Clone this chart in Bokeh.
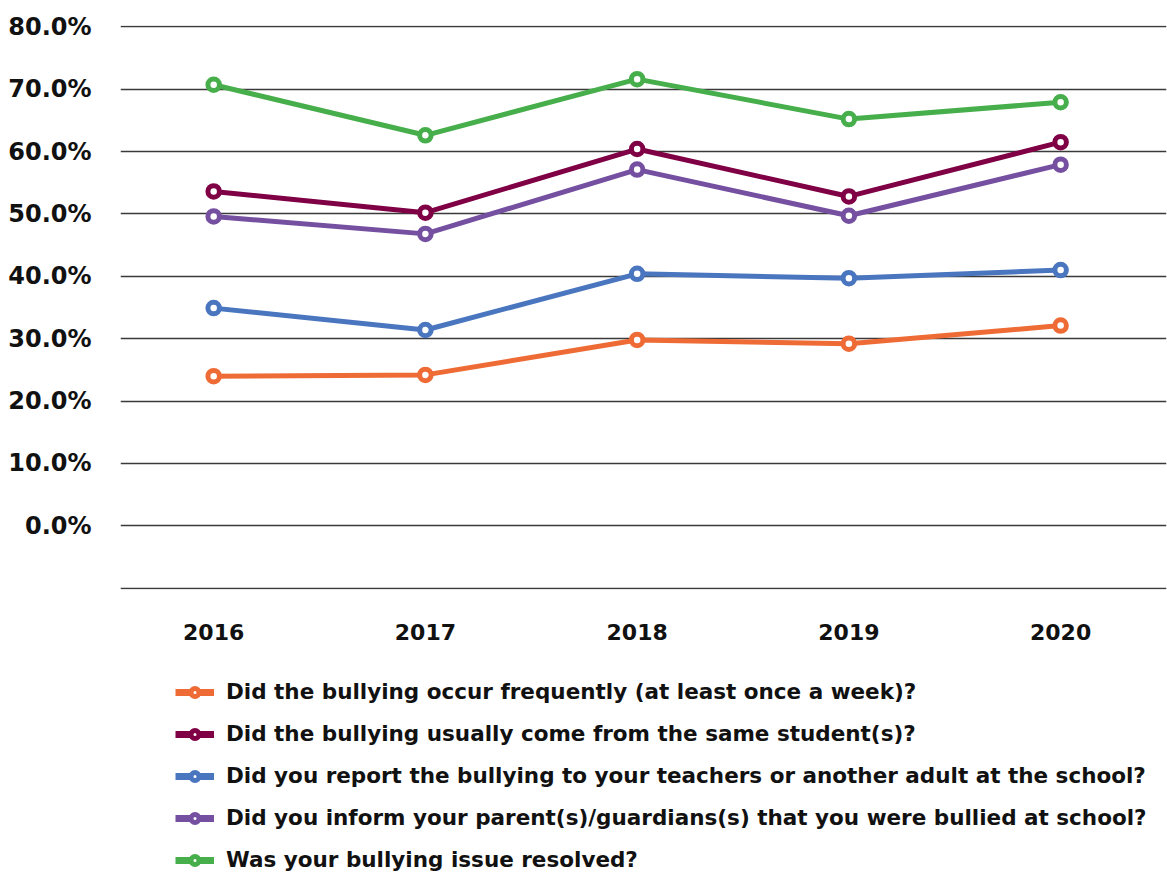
from bokeh.plotting import figure
from bokeh.models import FixedTicker, Legend, LegendItem, Range1d
from bokeh.layouts import column
from bokeh.embed import file_html
from bokeh.resources import INLINE

years = [2016, 2017, 2018, 2019, 2020]
frequent = [24.0, 24.2, 29.8, 29.2, 32.1]
same_student = [53.6, 50.2, 60.4, 52.8, 61.5]
reported = [34.9, 31.4, 40.4, 39.7, 41.0]
informed = [49.6, 46.8, 57.1, 49.7, 57.9]
resolved = [70.7, 62.6, 71.6, 65.2, 67.9]

series_names = [
    "Did the bullying occur frequently (at least once a week)?",
    "Did the bullying usually come from the same student(s)?",
    "Did you report the bullying to your teachers or another adult at the school?",
    "Did you inform your parent(s)/guardians(s) that you were bullied at school?",
    "Was your bullying issue resolved?",
]
series_values = [frequent, same_student, reported, informed, resolved]
series_colors = ["#EF6B36", "#7F0045", "#4A76C0", "#7550A1", "#46AE4A"]
y_ticks = [-10, 0, 10, 20, 30, 40, 50, 60, 70, 80]

FONT = "DejaVu Sans"
LW = 5
MS = 11.5
MLW = 5

p = figure(width=1167, height=660, output_backend="svg", toolbar_location=None,
           x_range=Range1d(2015.56, 2020.5), y_range=Range1d(-10.2, 80.2),
           min_border_left=120, min_border_right=1, min_border_top=25,
           min_border_bottom=71, outline_line_color=None)

for vals, col in zip(series_values, series_colors):
    p.line(years, vals, line_color=col, line_width=LW)
    p.scatter(years, vals, size=MS, fill_color="white", line_color=col, line_width=MLW)

p.xgrid.visible = False
p.ygrid.ticker = FixedTicker(ticks=y_ticks)
p.ygrid.grid_line_color = "#3a3a3a"
p.ygrid.grid_line_width = 1.3

p.yaxis.ticker = FixedTicker(ticks=y_ticks)
p.yaxis.major_label_overrides = {t: ("" if t < 0 else f"{t:.1f}%") for t in y_ticks}
p.yaxis.axis_line_color = None
p.yaxis.major_tick_line_color = None
p.yaxis.minor_tick_line_color = None
p.yaxis.major_label_text_font = FONT
p.yaxis.major_label_text_font_style = "bold"
p.yaxis.major_label_text_font_size = "24px"
p.yaxis.major_label_text_color = "#111111"
p.yaxis.major_label_standoff = 23

p.xaxis.ticker = FixedTicker(ticks=years)
p.xaxis.axis_line_color = None
p.xaxis.major_tick_line_color = None
p.xaxis.minor_tick_line_color = None
p.xaxis.major_label_text_font = FONT
p.xaxis.major_label_text_font_style = "bold"
p.xaxis.major_label_text_font_size = "22px"
p.xaxis.major_label_text_color = "#111111"
p.xaxis.major_label_standoff = 28

# legend figure (same series, drawn outside its visible range)
q = figure(width=1167, height=215, output_backend="svg", toolbar_location=None,
           x_range=Range1d(0, 1), y_range=Range1d(0, 1),
           min_border=0, outline_line_color=None)
q.axis.visible = False
q.grid.visible = False
items = []
for name, vals, col in zip(series_names, series_values, series_colors):
    l = q.line(years, vals, line_color=col, line_width=7)
    s = q.scatter(years, vals, size=MS, fill_color="white", line_color=col, line_width=MLW)
    items.append(LegendItem(label=name, renderers=[l, s]))

legend = Legend(items=items, location=(55, 3), orientation="vertical",
                padding=0, margin=0, spacing=17, label_height=20, glyph_height=20,
                glyph_width=39, label_standoff=12,
                label_text_font=FONT, label_text_font_style="bold",
                label_text_font_size="21.5px", label_text_color="#111111",
                border_line_color=None, background_fill_alpha=0)
q.add_layout(legend, "center")

layout = column(p, q, spacing=0)
open("out.html", "w").write(file_html(layout, INLINE))
